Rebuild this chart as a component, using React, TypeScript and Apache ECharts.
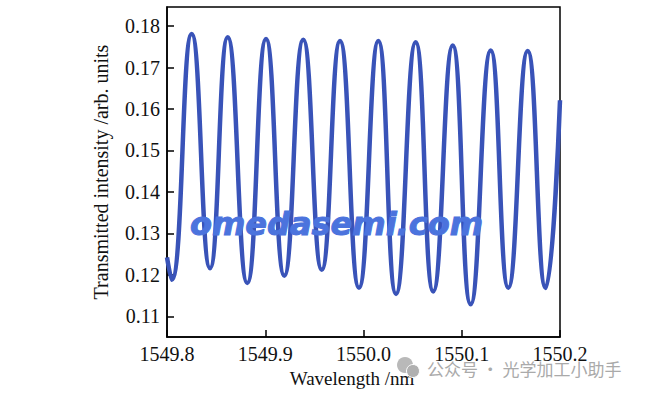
import React, { useEffect, useRef } from "react";
import * as echarts from "echarts";

// Extrema (plus the two ends)
const wavelength = [
  1549.8, 1549.8048, 1549.8251, 1549.8438, 1549.8618, 1549.8817, 1549.9008,
  1549.9194, 1549.9387, 1549.9575, 1549.9761, 1549.9954, 1550.0151, 1550.0331,
  1550.0531, 1550.071, 1550.0908, 1550.1091, 1550.1295, 1550.1474, 1550.1671,
  1550.1854, 1550.2,
];
const intensity = [
  0.1242, 0.1188, 0.1781, 0.1216, 0.1773, 0.118, 0.1769, 0.1198, 0.1767,
  0.1212, 0.1764, 0.1169, 0.1764, 0.1154, 0.1761, 0.116, 0.1753, 0.1129,
  0.1741, 0.1169, 0.174, 0.1168, 0.1621,
];
const yTicks = [0.11, 0.12, 0.13, 0.14, 0.15, 0.16, 0.17, 0.18];

const SERIF = "'Liberation Serif', 'Times New Roman', serif";

export default function App() {
  const ref = useRef<HTMLDivElement>(null);
  useEffect(() => {
    if (!ref.current) return;
    const chart = echarts.init(ref.current, null, { renderer: "svg" });
    const data = wavelength.map((w, i) => [w, intensity[i]]);
    chart.setOption({
      animation: false,
      backgroundColor: "#ffffff",
      grid: {
        left: 167,
        right: 110,
        top: 7,
        bottom: 57,
        show: true,
        borderColor: "#000",
        borderWidth: 1.5,
      },
      xAxis: {
        type: "value",
        min: 1549.8,
        max: 1550.2,
        interval: 0.1,
        name: "Wavelength /nm",
        nameLocation: "middle",
        nameGap: 30,
        nameTextStyle: {
          fontFamily: SERIF,
          fontSize: 19,
          color: "#111",
          padding: [0, 23, 0, 0],
        },
        axisLine: { show: true, lineStyle: { color: "#000", width: 1.5 } },
        axisTick: { show: true, inside: true, length: 7, lineStyle: { color: "#000", width: 1.5 } },
        axisLabel: {
          fontFamily: SERIF,
          fontSize: 20,
          color: "#111",
          margin: 7,
          formatter: (v: number) => v.toFixed(1),
        },
        splitLine: { show: false },
      },
      yAxis: {
        type: "value",
        min: 0.105,
        max: 0.1846,
        name: "Transmitted intensity /arb. units",
        nameLocation: "middle",
        nameGap: 56,
        nameTextStyle: { fontFamily: SERIF, fontSize: 20, color: "#111" },
        axisLine: { show: true, lineStyle: { color: "#000", width: 1.5 } },
        axisTick: {
          show: true,
          inside: true,
          length: 7,
          customValues: yTicks,
          lineStyle: { color: "#000", width: 1.5 },
        },
        axisLabel: {
          fontFamily: SERIF,
          fontSize: 20,
          color: "#111",
          margin: 7,
          customValues: yTicks,
          formatter: (v: number) => v.toFixed(2),
        },
        splitLine: { show: false },
      },
      series: [
        {
          type: "line",
          data,
          smooth: 0.5,
          symbol: "none",
          lineStyle: { color: "#3953b8", width: 4.5 },
          z: 2,
        },
      ],
      graphic: [
        {
          type: "text",
          x: 190,
          y: 224,
          z: 10,
          style: {
            text: "omedasemi.com",
            font: "italic bold 32px 'DejaVu Sans'",
            fill: "#4b73dd",
            stroke: "#4b73dd",
            lineWidth: 1,
            verticalAlign: "middle",
          },
        },
        {
          type: "circle",
          shape: { cx: 405, cy: 365, r: 8 },
          style: { fill: "#b9b9b9" },
          z: 10,
        },
        {
          type: "circle",
          shape: { cx: 413, cy: 371, r: 6.5 },
          style: { fill: "#b0b0b0", stroke: "#ffffff", lineWidth: 1 },
          z: 11,
        },
        {
          type: "text",
          x: 427,
          y: 368,
          z: 10,
          style: {
            text: "公众号 · 光学加工小助手",
            font: "17px 'Noto Sans CJK SC'",
            fill: "#aaaaaa",
            verticalAlign: "middle",
          },
        },
      ],
    });
    return () => chart.dispose();
  }, []);
  return (
    <div
      ref={ref}
      style={{ position: "fixed", left: 0, top: 0, width: 670, height: 394, background: "#fff" }}
    />
  );
}
